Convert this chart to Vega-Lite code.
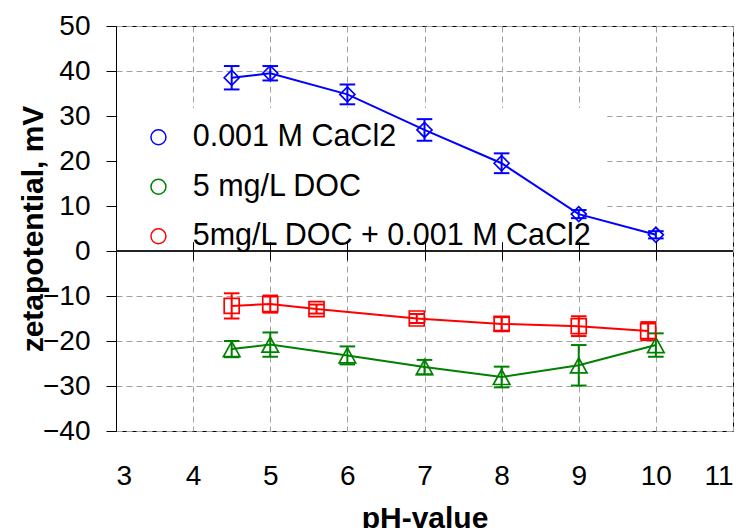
{
  "$schema": "https://vega.github.io/schema/vega-lite/v6.json",
  "width": 617,
  "height": 405,
  "autosize": {"type": "none"},
  "padding": {"left": 116, "top": 26, "right": 16, "bottom": 97},
  "background": "white",
  "config": {
    "view": {"stroke": "black", "strokeWidth": 1},
    "font": "Liberation Sans",
    "axis": {
      "labelFont": "Liberation Sans",
      "titleFont": "Liberation Sans",
      "labelColor": "black",
      "titleColor": "black",
      "zindex": 0
    }
  },
  "datasets": {
    "zeta": [
      {"series": "0.001 M CaCl2", "ph": 4.5, "zeta": 38.5, "err": 2.6},
      {"series": "0.001 M CaCl2", "ph": 5, "zeta": 39.5, "err": 1.6},
      {"series": "0.001 M CaCl2", "ph": 6, "zeta": 34.8, "err": 2.2},
      {"series": "0.001 M CaCl2", "ph": 7, "zeta": 26.9, "err": 2.4},
      {"series": "0.001 M CaCl2", "ph": 8, "zeta": 19.5, "err": 2.2},
      {"series": "0.001 M CaCl2", "ph": 9, "zeta": 8.2, "err": 0.9},
      {"series": "0.001 M CaCl2", "ph": 10, "zeta": 3.6, "err": 0.8},
      {"series": "5 mg/L DOC", "ph": 4.5, "zeta": -21.8, "err": 1.8},
      {"series": "5 mg/L DOC", "ph": 5, "zeta": -20.8, "err": 2.7},
      {"series": "5 mg/L DOC", "ph": 6, "zeta": -23.2, "err": 2.0},
      {"series": "5 mg/L DOC", "ph": 7, "zeta": -25.8, "err": 1.6},
      {"series": "5 mg/L DOC", "ph": 8, "zeta": -28.0, "err": 2.3},
      {"series": "5 mg/L DOC", "ph": 9, "zeta": -25.4, "err": 4.5},
      {"series": "5 mg/L DOC", "ph": 10, "zeta": -20.9, "err": 2.6},
      {"series": "5mg/L DOC + 0.001 M CaCl2", "ph": 4.5, "zeta": -12.2, "err": 2.8},
      {"series": "5mg/L DOC + 0.001 M CaCl2", "ph": 5, "zeta": -11.8, "err": 1.9},
      {"series": "5mg/L DOC + 0.001 M CaCl2", "ph": 5.6, "zeta": -12.9, "err": 1.0},
      {"series": "5mg/L DOC + 0.001 M CaCl2", "ph": 6.9, "zeta": -15.0, "err": 1.0},
      {"series": "5mg/L DOC + 0.001 M CaCl2", "ph": 8, "zeta": -16.2, "err": 1.5},
      {"series": "5mg/L DOC + 0.001 M CaCl2", "ph": 9, "zeta": -16.7, "err": 2.2},
      {"series": "5mg/L DOC + 0.001 M CaCl2", "ph": 9.9, "zeta": -17.8, "err": 2.0}
    ]
  },
  "data": {"name": "zeta"},
  "resolve": {"axis": {"x": "independent"}},
  "layer": [
    {
      "data": {"values": [{}]},
      "mark": {"type": "rect", "fill": "white", "opacity": 1},
      "encoding": {
        "x": {
          "datum": 3.02,
          "type": "quantitative",
          "scale": {"domain": [3, 11]},
          "axis": null
        },
        "x2": {"datum": 9.37},
        "y": {
          "datum": 0,
          "type": "quantitative",
          "scale": {"domain": [-40, 50]},
          "title": "zetapotential, mV",
          "axis": {
            "values": [-40, -30, -20, -10, 0, 10, 20, 30, 40, 50],
            "grid": true,
            "gridColor": "#A0A0A0",
            "gridDash": [6, 4],
            "gridWidth": 1,
            "domain": true,
            "domainColor": "black",
            "ticks": true,
            "tickSize": 10,
            "tickColor": "black",
            "labelFontSize": 28,
            "labelPadding": 16,
            "titleFontSize": 30,
            "titleFontWeight": "bold",
            "titleBaseline": "alphabetic",
            "titleAngle": -90,
            "titleX": -74,
            "titleY": 202.5,
            "zindex": 0
          }
        },
        "y2": {"datum": 31.8}
      }
    },
    {
      "mark": {"type": "rule", "color": "#222222", "strokeWidth": 1},
      "encoding": {
        "y": {"datum": 0, "type": "quantitative", "title": "zetapotential, mV"}
      }
    },
    {
      "mark": {"type": "line", "strokeWidth": 2},
      "encoding": {
        "x": {
          "field": "ph",
          "type": "quantitative",
          "axis": {
            "orient": "bottom",
            "offset": -180,
            "title": null,
            "labels": false,
            "grid": false,
            "domain": false,
            "ticks": true,
            "tickSize": 9,
            "tickColor": "black",
            "tickWidth": 1,
            "values": [4, 5, 6, 7, 8, 9, 10]
          }
        },
        "y": {"field": "zeta", "type": "quantitative", "title": "zetapotential, mV"},
        "stroke": {
          "field": "series",
          "type": "nominal",
          "scale": {"range": ["#0000FF", "#008000", "#FF0000"]},
          "legend": null
        }
      }
    },
    {
      "mark": {
        "type": "errorbar",
        "thickness": 2,
        "ticks": {"size": 14, "thickness": 0.4, "fillOpacity": 0, "strokeWidth": 1.6, "opacity": 1}
      },
      "encoding": {
        "x": {
          "field": "ph",
          "type": "quantitative",
          "axis": {
            "orient": "top",
            "offset": -224.7,
            "title": null,
            "labels": false,
            "grid": false,
            "domain": false,
            "ticks": true,
            "tickSize": 9,
            "tickColor": "black",
            "tickWidth": 1,
            "values": [4, 5, 6, 7, 8, 9, 10],
            "zindex": 1
          }
        },
        "y": {"field": "zeta", "type": "quantitative", "title": "zetapotential, mV"},
        "yError": {"field": "err"},
        "stroke": {"field": "series", "type": "nominal", "legend": null}
      }
    },
    {
      "mark": {"type": "point", "filled": false, "size": 225, "strokeWidth": 1.7, "opacity": 1},
      "encoding": {
        "x": {
          "field": "ph",
          "type": "quantitative",
          "title": "pH-value",
          "axis": {
            "orient": "bottom",
            "values": [3, 4, 5, 6, 7, 8, 9, 10, 11],
            "grid": true,
            "gridColor": "#A0A0A0",
            "gridDash": [6, 4],
            "gridWidth": 1,
            "domain": false,
            "ticks": false,
            "labelFontSize": 28,
            "labelPadding": 31,
            "titleFontSize": 30,
            "titleFontWeight": "bold",
            "titleBaseline": "alphabetic",
            "titleY": 96,
            "titleX": 308.5,
            "zindex": 0
          }
        },
        "y": {"field": "zeta", "type": "quantitative", "title": "zetapotential, mV"},
        "color": {
          "field": "series",
          "type": "nominal",
          "scale": {
            "domain": ["0.001 M CaCl2", "5 mg/L DOC", "5mg/L DOC + 0.001 M CaCl2"],
            "range": ["#0000FF", "#008000", "#FF0000"]
          },
          "legend": {
            "orient": "none",
            "legendX": 27.2,
            "legendY": 96,
            "title": null,
            "padding": 0,
            "labelFont": "Liberation Sans",
            "labelFontSize": 30.5,
            "labelColor": "black",
            "labelLimit": 0,
            "labelOffset": 19,
            "rowPadding": 18.5,
            "symbolSize": 225,
            "symbolStrokeWidth": 1.5,
            "symbolOpacity": 1,
            "encode": {
              "symbols": {
                "shape": {
                  "condition": [
                    {"test": "datum.value === '0.001 M CaCl2'", "value": "M-3.7,0L-1,0M1,0L3.7,0M-1,0L0,-1L1,0L0,1Z"},
                    {"test": "datum.value === '5 mg/L DOC'", "value": "M-3.7,0L-0.55,0M0.55,0L3.7,0M0,-1L-1.1,1L1.1,1Z"}
                  ],
                  "value": "M-3.7,0L-0.95,0M0.95,0L3.7,0M-0.95,-0.95L0.95,-0.95L0.95,0.95L-0.95,0.95Z"
                },
                "size": {"value": 225},
                "fill": {"value": "transparent"},
                "strokeWidth": {"value": 1.5}
              }
            }
          }
        },
        "shape": {
          "field": "series",
          "type": "nominal",
          "scale": {"range": ["diamond", "M0,-1L-1.1,1L1.1,1Z", "square"]},
          "legend": null
        }
      }
    }
  ]
}
